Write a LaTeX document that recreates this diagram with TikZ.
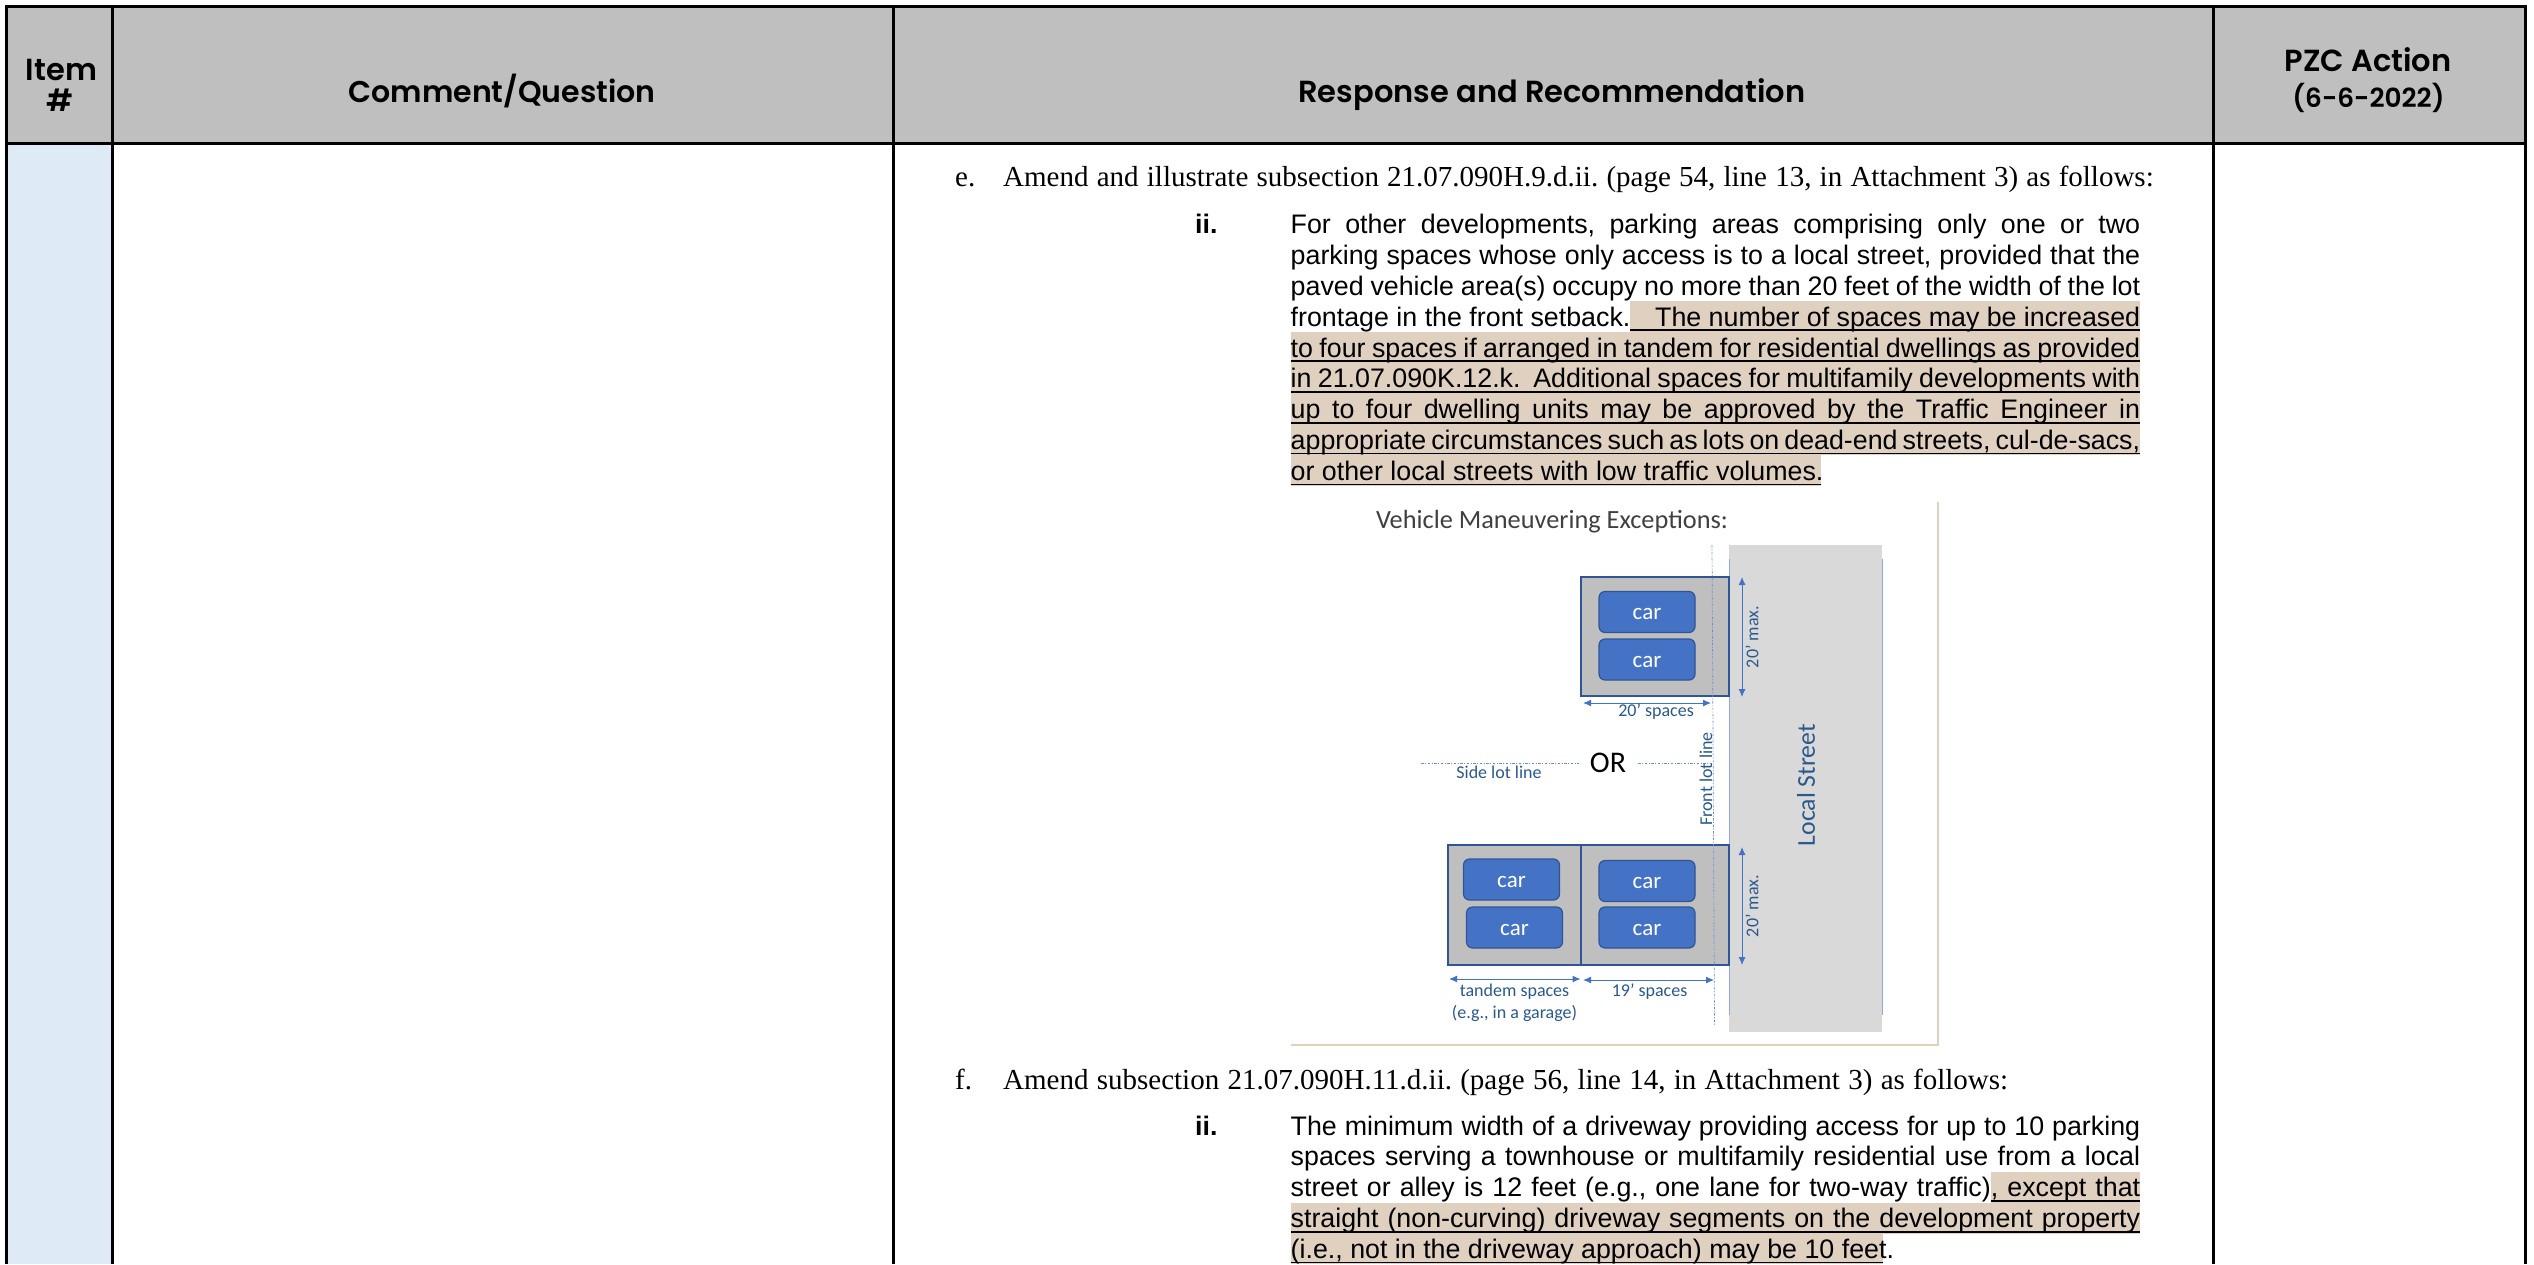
\documentclass[tikz,border=0pt]{standalone}
\usepackage{fontspec}
\usetikzlibrary{arrows.meta}
\setmainfont{Liberation Sans}
\newfontfamily\serifface{Liberation Serif}
\newfontfamily\headface{Poppins SemiBold}
\newfontfamily\figface{Carlito}
\definecolor{hdr}{HTML}{BFBFBF}
\definecolor{itemcol}{HTML}{DEEAF6}
\definecolor{tanmark}{HTML}{E0D0C0}
\definecolor{carblue}{HTML}{4472C4}
\definecolor{cardark}{HTML}{2F5597}
\definecolor{lotgray}{HTML}{BFBFBF}
\definecolor{streetgray}{HTML}{D9D9D9}
\definecolor{lbl}{HTML}{2A5A8C}
\definecolor{titlec}{HTML}{404040}
\tikzset{
  gridline/.style={line width=3pt,black},
  headtext/.style={inner sep=0pt,align=center,font=\headface\fontsize{30}{36}\selectfont},
  bodytext/.style={inner sep=0pt,anchor=base west,font=\fontsize{26.8}{30.8}\selectfont},
  leadtext/.style={inner sep=0pt,anchor=base west,font=\serifface\fontsize{29}{33}\selectfont},
  ulineb/.style={line width=1.8pt,black},
  lotbox/.style={fill=lotgray,draw=cardark,line width=1.6pt},
  carbox/.style={fill=carblue,draw=cardark,line width=1.2pt,rounded corners=6pt,minimum width=96pt,minimum height=41pt,inner sep=0pt,text=white,text height=15.7pt,text depth=0pt,font=\figface\fontsize{23}{26}\selectfont},
  lbltext/.style={inner sep=0pt,text=lbl,font=\figface\fontsize{18}{21}\selectfont},
  dimline/.style={draw=carblue,line width=1pt,{Latex[length=8pt,width=7pt]}-{Latex[length=8pt,width=7pt]}},
  lotline/.style={draw=carblue!80,line width=0.7pt,dash pattern=on 2.5pt off 1.5pt on 1pt off 1.5pt},
}
\newcommand{\jline}[3]{\node[bodytext] (#1) at (1290.5,#2) {\makebox[849.5pt][s]{#3}};}
\frenchspacing
\begin{document}
\begin{tikzpicture}[x=1pt,y=-1pt]
\useasboundingbox (0,0) rectangle (2534,1264);
\fill[white] (0,0) rectangle (2534,1264);
% table fills
\fill[hdr] (6,6) rectangle (2525,143);
\fill[itemcol] (6,143) rectangle (112,1264);
% grid
\draw[gridline] (6,1264) -- (6,6) -- (2525,6) -- (2525,1264);
\draw[gridline] (6,143) -- (2525,143);
\draw[gridline] (112,6) -- (112,1264);
\draw[gridline] (893,6) -- (893,1264);
\draw[gridline] (2213,6) -- (2213,1264);
% headers
\node[headtext,font=\headface\fontsize{30.5}{36}\selectfont] (hitem) at (61.5,69.5) {Item};
\node[headtext,font=\headface\fontsize{30.5}{36}\selectfont] (hnum) at (60.5,100) {\#};
\node[headtext] (hcomment) at (502,91) {Comment/Question};
\node[headtext,font=\headface\fontsize{30.5}{36}\selectfont] (hresp) at (1552,94.5) {Response and Recommendation};
\node[headtext,font=\headface\fontsize{30.5}{36}\selectfont] (hpzc) at (2368,59.5) {PZC Action};
\node[headtext,font=\headface\fontsize{26.3}{32}\selectfont] (hdate) at (2368.5,98) {(6-6-2022)};
% highlights
\fill[tanmark] (1630,301) rectangle (2140,332);
\fill[tanmark] (1290.5,332) rectangle (2140,455);
\fill[tanmark] (1290.5,455) rectangle (1821,486);
\fill[tanmark] (1991,1172) rectangle (2140,1203);
\fill[tanmark] (1290.5,1203) rectangle (2140,1234);
\fill[tanmark] (1290.5,1234) rectangle (1883,1264);
% underlines
\draw[ulineb] (1630,330) -- (2140,330);
\foreach \yy in {361,392,423,453.5}{\draw[ulineb] (1290.5,\yy) -- (2140,\yy);}
\draw[ulineb] (1290.5,484.5) -- (1821,484.5);
\draw[ulineb] (1991,1201) -- (2140,1201);
\draw[ulineb] (1290.5,1232) -- (2140,1232);
\draw[ulineb] (1290.5,1262.5) -- (1883,1262.5);
% item e
\node[leadtext] (elab) at (955,186.5) {e.};
\node[leadtext] (etxt) at (1003,186.5) {\makebox[1150.5pt][s]{Amend and illustrate subsection 21.07.090H.9.d.ii. (page 54, line 13, in Attachment 3) as follows:}};
\node[bodytext,font=\bfseries\fontsize{26.8}{30.8}\selectfont] (eii) at (1195,233.5) {ii.};
\jline{e1}{233.5}{For other developments, parking areas comprising only one or two}
\jline{e2}{264.4}{parking spaces whose only access is to a local street, provided that the}
\jline{e3}{295.3}{paved vehicle area(s) occupy no more than 20 feet of the width of the lot}
\node[bodytext] (e4a) at (1290.5,326) {frontage in the front setback.};
\node[bodytext] (e4b) at (1655,326) {\makebox[485pt][s]{The number of spaces may be increased}};
\jline{e5}{357}{to four spaces if arranged in tandem for residential dwellings as provided}
\jline{e6}{387.8}{in 21.07.090K.12.k.\ \ Additional spaces for multifamily developments with}
\jline{e7}{418.7}{up to four dwelling units may be approved by the Traffic Engineer in}
\jline{e8}{449.5}{appropriate circumstances such as lots on dead-end streets, cul-de-sacs,}
\node[bodytext] (e9) at (1290.5,480.4) {or other local streets with low traffic volumes.};
% figure frame
\draw[tanmark,line width=1.2pt] (1291,1045) -- (1938,1045) -- (1938,502);
\node[inner sep=0pt,text=titlec,font=\figface\fontsize{26.3}{30}\selectfont] (figtitle) at (1552,521.5) {Vehicle Maneuvering Exceptions:};
% street
\fill[streetgray] (1729,545) rectangle (1882,1032);
\draw[carblue!60,line width=1pt] (1729,559) -- (1729,1015);
\draw[carblue!60,line width=1pt] (1882,559) -- (1882,1015);
\node[rotate=90,inner sep=0pt,text=lbl,font=\figface\fontsize{25.7}{30}\selectfont] (street) at (1806,785) {Local Street};
% top lot
\draw[lotbox] (1581,577) rectangle (1729,696);
\node[carbox] (c1) at (1647,612) {car};
\node[carbox] (c2) at (1647,659.5) {car};
% bottom lot
\draw[lotbox] (1448,845) rectangle (1581,965);
\draw[lotbox] (1581,845) rectangle (1729,965);
\node[carbox] (c3) at (1511.5,879.5) {car};
\node[carbox] (c4) at (1514.5,927.5) {car};
\node[carbox] (c5) at (1647,881) {car};
\node[carbox] (c6) at (1647,927.5) {car};
% lot lines
\coordinate (fl1) at (1712,545);
\coordinate (fl2) at (1714.5,1025);
\draw[lotline] (fl1) -- (fl2);
\coordinate (sl1) at (1421,763);
\coordinate (sl2) at (1579,763);
\coordinate (sl3) at (1638,763);
\coordinate (sl4) at (1713,763);
\draw[lotline] (sl1) -- (sl2);
\draw[lotline] (sl3) -- (sl4);
\node[inner sep=0pt,font=\figface\fontsize{30}{34}\selectfont] (orl) at (1608,763) {OR};
\node[lbltext] (side) at (1499,772) {Side lot line};
\node[lbltext,rotate=90] (front) at (1706,779) {Front lot line};
% dimensions
\coordinate (d1a) at (1742,577);
\coordinate (d1b) at (1742,697);
\draw[dimline] (d1a) -- (d1b);
\node[lbltext,rotate=90] (max1) at (1752,637) {20’ max.};
\coordinate (d2a) at (1583,703);
\coordinate (d2b) at (1711,703);
\draw[dimline] (d2a) -- (d2b);
\node[lbltext] (sp20) at (1656,712) {20’ spaces};
\coordinate (d3a) at (1742,847);
\coordinate (d3b) at (1742,965);
\draw[dimline] (d3a) -- (d3b);
\node[lbltext,rotate=90] (max2) at (1752,906) {20’ max.};
\coordinate (d4a) at (1449,979);
\coordinate (d4b) at (1580.5,979);
\draw[dimline] (d4a) -- (d4b);
\coordinate (d5a) at (1583,980);
\coordinate (d5b) at (1714,980);
\draw[dimline] (d5a) -- (d5b);
\node[lbltext] (tand1) at (1514.5,992) {tandem spaces};
\node[lbltext] (tand2) at (1514.5,1013) {(e.g., in a garage)};
\node[lbltext] (sp19) at (1649.5,992) {19’ spaces};
% item f
\node[leadtext] (flab) at (955,1089) {f.};
\node[leadtext] (ftxt) at (1003,1089) {\makebox[1005pt][s]{Amend subsection 21.07.090H.11.d.ii. (page 56, line 14, in Attachment 3) as follows:}};
\node[bodytext,font=\bfseries\fontsize{26.8}{30.8}\selectfont] (fii) at (1195,1135) {ii.};
\jline{f1}{1135}{The minimum width of a driveway providing access for up to 10 parking}
\jline{f2}{1165.8}{spaces serving a townhouse or multifamily residential use from a local}
\jline{f3}{1196.7}{street or alley is 12 feet (e.g., one lane for two-way traffic), except that}
\jline{f4}{1227.5}{straight (non-curving) driveway segments on the development property}
\node[bodytext] (f5) at (1290.5,1258.4) {(i.e., not in the driveway approach) may be 10 feet.};
\end{tikzpicture}
\end{document}
